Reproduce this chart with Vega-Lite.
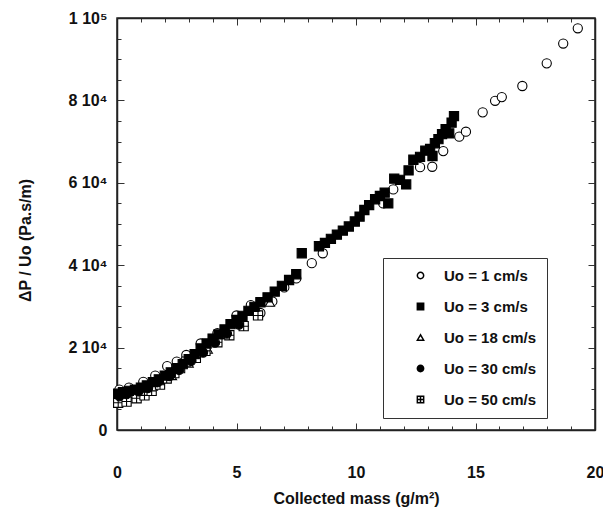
{
"$schema":"https://vega.github.io/schema/vega-lite/v6.json",
"autosize":{"type":"none"},
"padding":{"left":117,"top":18,"right":8,"bottom":80},
"width":478,"height":412,
"config":{"font":"Liberation Sans","view":{"stroke":"#222","strokeWidth":1.5},
 "axis":{"labelFont":"Liberation Sans","labelFontWeight":"bold","labelFontSize":16,"labelColor":"#111","titleFont":"Liberation Sans","titleFontWeight":"bold","titleFontSize":16,"titleColor":"#111","domainColor":"#222","domainWidth":1.5,"gridColor":"#333","gridWidth":1,"gridOpacity":1},
 "legend":{"labelFont":"Liberation Sans","labelFontWeight":"bold","labelFontSize":15,"labelColor":"#111"}},
"datasets":{"pts":[
{"s":"Uo = 1 cm/s","m":0.1,"dp":9800},{"s":"Uo = 1 cm/s","m":0.5,"dp":10300},{"s":"Uo = 1 cm/s","m":1.1,"dp":11700},{"s":"Uo = 1 cm/s","m":1.6,"dp":13200},{"s":"Uo = 1 cm/s","m":2.1,"dp":15500},{"s":"Uo = 1 cm/s","m":2.5,"dp":16600},{"s":"Uo = 1 cm/s","m":2.9,"dp":18200},{"s":"Uo = 1 cm/s","m":3.5,"dp":21000},{"s":"Uo = 1 cm/s","m":4.2,"dp":23500},{"s":"Uo = 1 cm/s","m":5.0,"dp":27800},{"s":"Uo = 1 cm/s","m":5.6,"dp":30300},{"s":"Uo = 1 cm/s","m":6.0,"dp":28400},{"s":"Uo = 1 cm/s","m":6.5,"dp":31200},{"s":"Uo = 1 cm/s","m":7.0,"dp":34600},{"s":"Uo = 1 cm/s","m":7.5,"dp":36800},{"s":"Uo = 1 cm/s","m":8.15,"dp":40500},{"s":"Uo = 1 cm/s","m":8.61,"dp":42900},{"s":"Uo = 1 cm/s","m":11.14,"dp":55000},{"s":"Uo = 1 cm/s","m":11.56,"dp":58400},{"s":"Uo = 1 cm/s","m":12.68,"dp":63800},{"s":"Uo = 1 cm/s","m":13.19,"dp":63900},{"s":"Uo = 1 cm/s","m":13.65,"dp":67700},{"s":"Uo = 1 cm/s","m":14.32,"dp":71200},{"s":"Uo = 1 cm/s","m":14.6,"dp":72400},{"s":"Uo = 1 cm/s","m":15.3,"dp":77100},{"s":"Uo = 1 cm/s","m":15.82,"dp":79900},{"s":"Uo = 1 cm/s","m":16.1,"dp":80800},{"s":"Uo = 1 cm/s","m":16.96,"dp":83500},{"s":"Uo = 1 cm/s","m":17.98,"dp":89000},{"s":"Uo = 1 cm/s","m":18.67,"dp":93800},{"s":"Uo = 1 cm/s","m":19.28,"dp":97500},
{"s":"Uo = 18 cm/s","m":0.2,"dp":7800},{"s":"Uo = 18 cm/s","m":0.8,"dp":8800},{"s":"Uo = 18 cm/s","m":1.5,"dp":10600},{"s":"Uo = 18 cm/s","m":2.3,"dp":13200},{"s":"Uo = 18 cm/s","m":3.0,"dp":16200},{"s":"Uo = 18 cm/s","m":3.8,"dp":19600},{"s":"Uo = 18 cm/s","m":4.6,"dp":23200},{"s":"Uo = 18 cm/s","m":5.3,"dp":26200},{"s":"Uo = 18 cm/s","m":5.9,"dp":28800},{"s":"Uo = 18 cm/s","m":6.4,"dp":31000},
{"s":"Uo = 50 cm/s","m":0.05,"dp":6600},{"s":"Uo = 50 cm/s","m":0.4,"dp":6900},{"s":"Uo = 50 cm/s","m":0.82,"dp":7700},{"s":"Uo = 50 cm/s","m":1.15,"dp":8400},{"s":"Uo = 50 cm/s","m":1.45,"dp":9500},{"s":"Uo = 50 cm/s","m":1.8,"dp":11000},{"s":"Uo = 50 cm/s","m":2.08,"dp":12500},{"s":"Uo = 50 cm/s","m":2.4,"dp":13800},{"s":"Uo = 50 cm/s","m":2.64,"dp":15000},{"s":"Uo = 50 cm/s","m":2.9,"dp":16600},{"s":"Uo = 50 cm/s","m":3.3,"dp":17500},{"s":"Uo = 50 cm/s","m":3.7,"dp":19200},{"s":"Uo = 50 cm/s","m":4.2,"dp":21300},{"s":"Uo = 50 cm/s","m":4.7,"dp":23000},{"s":"Uo = 50 cm/s","m":5.3,"dp":25200},{"s":"Uo = 50 cm/s","m":5.9,"dp":27800},
{"s":"Uo = 30 cm/s","m":0.1,"dp":8200},{"s":"Uo = 30 cm/s","m":0.4,"dp":8700},{"s":"Uo = 30 cm/s","m":0.9,"dp":9400},{"s":"Uo = 30 cm/s","m":1.3,"dp":10200},{"s":"Uo = 30 cm/s","m":1.7,"dp":11600},{"s":"Uo = 30 cm/s","m":2.2,"dp":13100},{"s":"Uo = 30 cm/s","m":2.6,"dp":14600},{"s":"Uo = 30 cm/s","m":3.1,"dp":16800},{"s":"Uo = 30 cm/s","m":3.6,"dp":18800},{"s":"Uo = 30 cm/s","m":4.1,"dp":21200},{"s":"Uo = 30 cm/s","m":4.6,"dp":23400},{"s":"Uo = 30 cm/s","m":5.1,"dp":25600},
{"s":"Uo = 3 cm/s","m":0.05,"dp":8800},{"s":"Uo = 3 cm/s","m":0.25,"dp":9200},{"s":"Uo = 3 cm/s","m":0.5,"dp":9500},{"s":"Uo = 3 cm/s","m":0.75,"dp":9800},{"s":"Uo = 3 cm/s","m":1.0,"dp":10300},{"s":"Uo = 3 cm/s","m":1.25,"dp":10800},{"s":"Uo = 3 cm/s","m":1.5,"dp":11600},{"s":"Uo = 3 cm/s","m":1.75,"dp":12300},{"s":"Uo = 3 cm/s","m":2.0,"dp":13200},{"s":"Uo = 3 cm/s","m":2.25,"dp":14000},{"s":"Uo = 3 cm/s","m":2.5,"dp":15000},{"s":"Uo = 3 cm/s","m":2.75,"dp":16000},{"s":"Uo = 3 cm/s","m":3.0,"dp":17200},{"s":"Uo = 3 cm/s","m":3.25,"dp":18400},{"s":"Uo = 3 cm/s","m":3.5,"dp":19800},{"s":"Uo = 3 cm/s","m":3.75,"dp":21000},{"s":"Uo = 3 cm/s","m":4.0,"dp":22200},{"s":"Uo = 3 cm/s","m":4.25,"dp":23200},{"s":"Uo = 3 cm/s","m":4.5,"dp":24400},{"s":"Uo = 3 cm/s","m":4.75,"dp":25700},{"s":"Uo = 3 cm/s","m":5.0,"dp":26700},{"s":"Uo = 3 cm/s","m":5.25,"dp":27700},{"s":"Uo = 3 cm/s","m":5.5,"dp":28900},{"s":"Uo = 3 cm/s","m":5.75,"dp":29900},{"s":"Uo = 3 cm/s","m":6.0,"dp":31000},{"s":"Uo = 3 cm/s","m":6.3,"dp":32200},{"s":"Uo = 3 cm/s","m":6.6,"dp":33600},{"s":"Uo = 3 cm/s","m":6.9,"dp":35000},{"s":"Uo = 3 cm/s","m":7.2,"dp":36400},{"s":"Uo = 3 cm/s","m":7.5,"dp":37800},{"s":"Uo = 3 cm/s","m":7.73,"dp":42900},{"s":"Uo = 3 cm/s","m":8.45,"dp":44600},{"s":"Uo = 3 cm/s","m":8.7,"dp":45400},{"s":"Uo = 3 cm/s","m":8.95,"dp":46400},{"s":"Uo = 3 cm/s","m":9.2,"dp":47400},{"s":"Uo = 3 cm/s","m":9.45,"dp":48400},{"s":"Uo = 3 cm/s","m":9.7,"dp":49400},{"s":"Uo = 3 cm/s","m":9.95,"dp":50600},{"s":"Uo = 3 cm/s","m":10.15,"dp":51800},{"s":"Uo = 3 cm/s","m":10.35,"dp":53400},{"s":"Uo = 3 cm/s","m":10.55,"dp":54600},{"s":"Uo = 3 cm/s","m":10.8,"dp":56000},{"s":"Uo = 3 cm/s","m":11.0,"dp":56800},{"s":"Uo = 3 cm/s","m":11.2,"dp":57600},{"s":"Uo = 3 cm/s","m":11.35,"dp":55000},{"s":"Uo = 3 cm/s","m":11.6,"dp":61000},{"s":"Uo = 3 cm/s","m":11.84,"dp":60700},{"s":"Uo = 3 cm/s","m":12.1,"dp":59600},{"s":"Uo = 3 cm/s","m":12.2,"dp":63000},{"s":"Uo = 3 cm/s","m":12.4,"dp":65600},{"s":"Uo = 3 cm/s","m":12.68,"dp":66300},{"s":"Uo = 3 cm/s","m":12.9,"dp":67800},{"s":"Uo = 3 cm/s","m":13.1,"dp":68200},{"s":"Uo = 3 cm/s","m":13.2,"dp":66500},{"s":"Uo = 3 cm/s","m":13.3,"dp":69600},{"s":"Uo = 3 cm/s","m":13.45,"dp":70600},{"s":"Uo = 3 cm/s","m":13.6,"dp":71800},{"s":"Uo = 3 cm/s","m":13.75,"dp":73000},{"s":"Uo = 3 cm/s","m":13.9,"dp":72000},{"s":"Uo = 3 cm/s","m":14.0,"dp":74600},{"s":"Uo = 3 cm/s","m":14.1,"dp":76200}
],
"frame":[{"m":0,"dp":0}]},
"layer":[
{"data":{"name":"pts"},
 "mark":{"type":"point","filled":true,"opacity":1,"stroke":"black","strokeWidth":1.1,"size":85},
 "encoding":{
  "x":{"field":"m","type":"quantitative","scale":{"domain":[0,20],"nice":false,"zero":false},
   "axis":{"orient":"bottom","title":"Collected mass (g/m²)","values":[0,1,2,3,4,5,6,7,8,9,10,11,12,13,14,15,16,17,18,19,20],"format":"d","labelExpr":"datum.value % 5 === 0 ? datum.label : ''","ticks":false,"grid":true,"gridDash":{"condition":{"test":"datum.value % 5 === 0","value":[7,2000]},"value":[4,2000]},"labelPadding":34,"titleY":68,"titleBaseline":"middle","labelFlush":false}},
  "y":{"field":"dp","type":"quantitative","scale":{"domain":[0,100000],"nice":false,"zero":true},
   "axis":{"orient":"left","title":"ΔP / Uo (Pa.s/m)","values":[0,5000,10000,15000,20000,25000,30000,35000,40000,45000,50000,55000,60000,65000,70000,75000,80000,85000,90000,95000,100000],"labelExpr":"datum.value === 0 ? '0' : datum.value === 100000 ? '1 10⁵' : datum.value % 20000 === 0 ? (datum.value/10000) + ' 10⁴' : ''","ticks":false,"grid":true,"gridDash":{"condition":{"test":"datum.value % 20000 === 0","value":[7,2000]},"value":[4,2000]},"labelPadding":10,"titleX":-92,"titleY":222,"titleAngle":-90,"titleBaseline":"middle","labelFlush":false}},
  "shape":{"field":"s","type":"nominal","scale":{"domain":["Uo = 1 cm/s","Uo = 3 cm/s","Uo = 18 cm/s","Uo = 30 cm/s","Uo = 50 cm/s"],"range":["circle","square","triangle-up","circle","M-1,-1H1V1H-1ZM0,-1V1M-1,0H1"]},
   "legend":{"orient":"none","legendX":266,"legendY":240,"title":null,"padding":10,"rowPadding":15,"symbolOffset":20,"labelOffset":16,"symbolSize":40,"strokeColor":"#333","fillColor":"white","encode":{"symbols":{"update":{"stroke":{"value":"black"},"strokeWidth":{"value":1},"opacity":{"value":1}}}}}},
  "fill":{"field":"s","type":"nominal","scale":{"domain":["Uo = 1 cm/s","Uo = 3 cm/s","Uo = 18 cm/s","Uo = 30 cm/s","Uo = 50 cm/s"],"range":["white","black","white","black","white"]},
   "legend":{"orient":"none","legendX":266,"legendY":240,"title":null,"padding":10,"rowPadding":15,"symbolOffset":20,"labelOffset":16,"symbolSize":40,"strokeColor":"#333","fillColor":"white","encode":{"symbols":{"update":{"stroke":{"value":"black"},"strokeWidth":{"value":1},"opacity":{"value":1}}}}}}
 }},
{"data":{"name":"frame"},
 "mark":{"type":"point","opacity":0},
 "encoding":{
  "x":{"field":"m","type":"quantitative","scale":{"domain":[0,20],"nice":false,"zero":false},
   "axis":{"orient":"top","title":null,"labels":false,"ticks":false,"grid":true,"values":[0,1,2,3,4,5,6,7,8,9,10,11,12,13,14,15,16,17,18,19,20],"gridDash":{"condition":{"test":"datum.value % 5 === 0","value":[7,2000]},"value":[4,2000]}}},
  "y":{"field":"dp","type":"quantitative","scale":{"domain":[0,100000],"nice":false,"zero":true},
   "axis":{"orient":"right","title":null,"labels":false,"ticks":false,"grid":true,"values":[0,5000,10000,15000,20000,25000,30000,35000,40000,45000,50000,55000,60000,65000,70000,75000,80000,85000,90000,95000,100000],"gridDash":{"condition":{"test":"datum.value % 20000 === 0","value":[7,2000]},"value":[4,2000]}}}
 }}
],
"resolve":{"scale":{"x":"independent","y":"independent"},"axis":{"x":"independent","y":"independent"}}
}
